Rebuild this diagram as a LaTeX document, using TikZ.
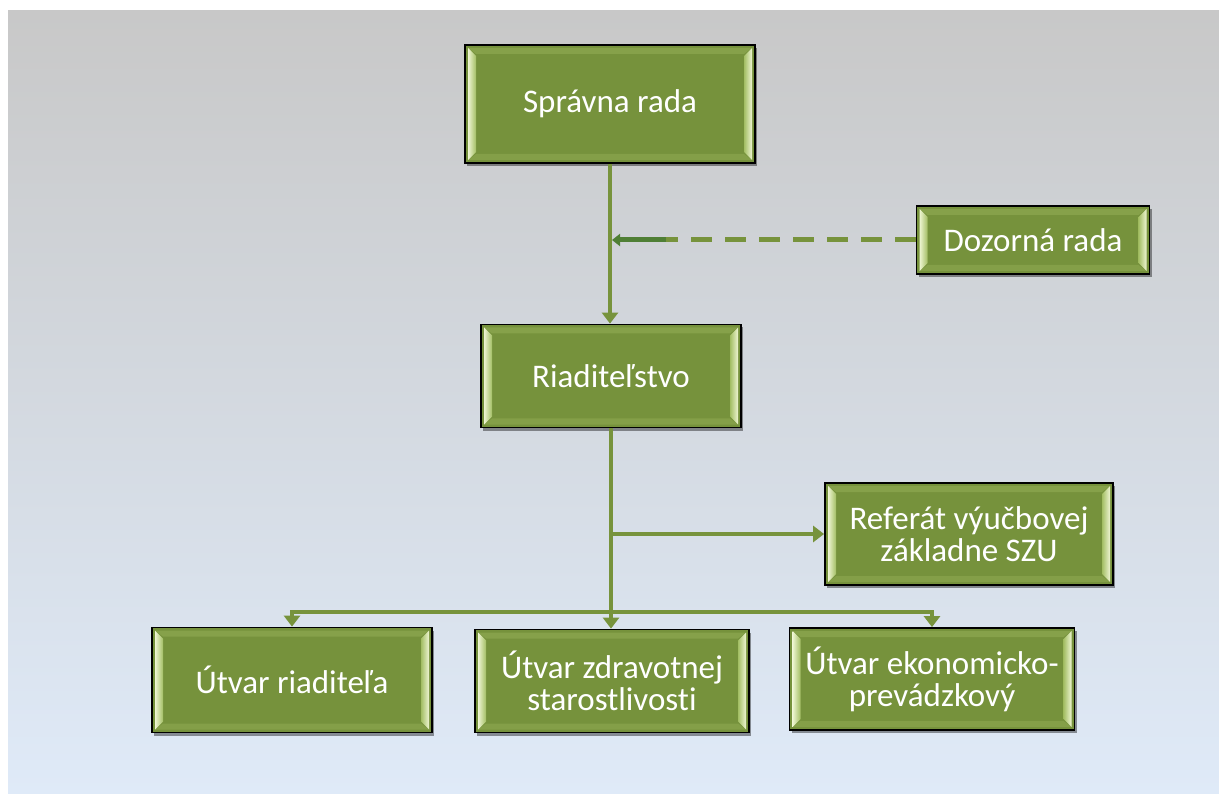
\documentclass[tikz,border=0pt]{standalone}
\usepackage{fontspec}
\setmainfont[Ligatures={NoCommon}]{Carlito}
\usetikzlibrary{arrows.meta,shadows,calc}
\definecolor{boxgreen}{HTML}{76923C}
\definecolor{linegreen}{HTML}{77933C}
\definecolor{darkgreen}{HTML}{4F7F35}
\definecolor{bevlight}{HTML}{EEF5D2}
\definecolor{bevmid}{HTML}{A3BE64}
\definecolor{bgtop}{HTML}{C8C8C8}
\definecolor{bgbot}{HTML}{DFEAF8}
\tikzset{
  box/.style={draw=black, line width=1.8pt, fill=boxgreen, text=white,
    font=\fontsize{33}{32}\selectfont, align=center, inner sep=0pt,
    drop shadow={shadow xshift=2pt, shadow yshift=-3pt, opacity=.4, fill=black},
    path picture={
      \fill[bevmid!35!boxgreen]
        ($(path picture bounding box.north west)+(3,3)$) --
        ($(path picture bounding box.north east)+(-3,3)$) --
        ($(path picture bounding box.north east)+(-11,9)$) --
        ($(path picture bounding box.north west)+(11,9)$) -- cycle;
      \fill[bevmid!30!boxgreen]
        ($(path picture bounding box.south west)+(3,-3)$) --
        ($(path picture bounding box.south east)+(-3,-3)$) --
        ($(path picture bounding box.south east)+(-11,-9)$) --
        ($(path picture bounding box.south west)+(11,-9)$) -- cycle;
      \shade[left color=bevlight, right color=bevmid]
        ($(path picture bounding box.north west)+(3,3)$) --
        ($(path picture bounding box.north west)+(11,11)$) --
        ($(path picture bounding box.south west)+(11,-11)$) --
        ($(path picture bounding box.south west)+(3,-3)$) -- cycle;
      \shade[left color=bevmid, right color=bevlight]
        ($(path picture bounding box.north east)+(-3,3)$) --
        ($(path picture bounding box.north east)+(-11,11)$) --
        ($(path picture bounding box.south east)+(-11,-11)$) --
        ($(path picture bounding box.south east)+(-3,-3)$) -- cycle;
    }},
  conn/.style={draw=linegreen, line width=4.5pt},
  conna/.style={conn, -{Triangle[length=11pt,width=16pt]}},
  dashline/.style={draw=linegreen, line width=5pt, dash pattern=on 21pt off 13pt},
  darrow/.style={draw=darkgreen, line width=5pt, -{Triangle[length=8pt,width=12pt]}}
}
\begin{document}
\begin{tikzpicture}[x=1pt,y=-1pt]
\useasboundingbox (0,0) rectangle (1219,794);
\shade[top color=bgtop, bottom color=bgbot, middle color=bgtop!50!bgbot] (8,11) rectangle (1219,794);

\node[box, minimum width=290pt, minimum height=118pt] (sr) at (610,104) {Správna rada};
\node[box, minimum width=233pt, minimum height=68pt] (dr) at (1033,240) {Dozorná rada};
\node[box, minimum width=260pt, minimum height=103pt] (ri) at (611,376) {Riaditeľstvo};
\node[box, minimum width=288pt, minimum height=102pt] (ref) at (969,534) {Referát výučbovej\\základne SZU};
\node[box, minimum width=280pt, minimum height=105pt] (ur) at (292,680) {Útvar riaditeľa};
\node[box, minimum width=274pt, minimum height=103pt] (uz) at (612,681) {Útvar zdravotnej\\starostlivosti};
\node[box, minimum width=285pt, minimum height=102pt] (ue) at (932,679) {Útvar ekonomicko-\\prevádzkový};

\coordinate (dz) at (612,240);
\coordinate (dzs) at (666,240);
\coordinate (br) at (611,534);
\coordinate (bar) at (611,612);

\draw[conna] (sr.south) -- (sr.south |- ri.north);
\draw[dashline] (dr.west) -- (dzs);
\draw[darrow] (dzs) -- (dz);
\draw[conna] (ri.south) -- (ri.south |- uz.north);
\draw[conna] (br) -- (ref.west);
\draw[conna] (bar) -| (ur.north);
\draw[conna] (bar) -| (ue.north);
\end{tikzpicture}
\end{document}
